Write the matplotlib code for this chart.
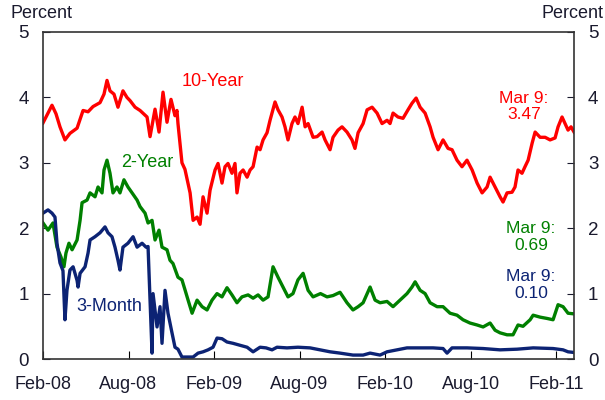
import matplotlib.pyplot as plt

# x positions: months since 1 Feb 2008
ten_x = [0, 0.21, 0.63, 0.91, 1.19, 1.54, 1.89, 2.39, 2.81, 3.16, 3.51, 4.0, 4.28, 4.49,
         4.70, 4.98, 5.26, 5.61, 5.89, 6.11, 6.46, 6.81, 7.30, 7.51, 7.86, 8.14, 8.42,
         8.70, 8.98, 9.26, 9.40, 9.47, 9.61, 9.75, 9.96, 10.32, 10.53, 10.81, 11.02,
         11.23, 11.51, 11.72, 12.07, 12.28, 12.56, 12.77, 12.98, 13.26, 13.47, 13.61,
         13.82, 14.04, 14.32, 14.53, 14.74, 15.02, 15.23, 15.44, 15.72, 15.93, 16.28,
         16.49, 16.77, 16.98, 17.19, 17.47, 17.68, 17.89, 18.18, 18.39, 18.60, 18.95,
         19.23, 19.58, 19.79, 20.14, 20.35, 20.70, 20.98, 21.33, 21.68, 21.89, 22.11,
         22.46, 22.74, 23.09, 23.44, 23.79, 24.14, 24.35, 24.56, 24.91, 25.26, 25.61,
         25.89, 26.18, 26.46, 26.81, 27.16, 27.37, 27.72, 28.07, 28.42, 28.70, 29.05,
         29.40, 29.75, 30.11, 30.46, 30.81, 31.16, 31.37, 31.72, 32.07, 32.28, 32.56,
         32.91, 33.12, 33.33, 33.61, 33.82, 34.04, 34.32, 34.53, 34.88, 35.23, 35.58,
         35.93, 36.14, 36.42, 36.63, 36.84, 37.05, 37.26]
ten_y = [3.61, 3.70, 3.88, 3.75, 3.55, 3.35, 3.45, 3.53, 3.80, 3.78, 3.86, 3.92, 4.05, 4.26,
         4.10, 4.05, 3.85, 4.10, 4.00, 3.95, 3.85, 3.80, 3.70, 3.40, 3.82, 3.47, 4.08,
         3.62, 3.97, 3.72, 3.80, 3.60, 3.30, 3.00, 2.90, 2.54, 2.12, 2.17, 2.06,
         2.48, 2.23, 2.58, 2.89, 2.99, 2.69, 2.94, 2.99, 2.84, 2.99, 2.54,
         2.84, 2.89, 2.78, 2.89, 2.94, 3.24, 3.20, 3.35, 3.46, 3.65, 3.93,
         3.81, 3.70, 3.55, 3.35, 3.60, 3.70, 3.60, 3.85, 3.55, 3.60, 3.39,
         3.40, 3.47, 3.35, 3.20, 3.39, 3.50, 3.55, 3.47, 3.35, 3.22, 3.46,
         3.60, 3.81, 3.85, 3.76, 3.60, 3.65, 3.60, 3.76, 3.70, 3.68, 3.81,
         3.91, 3.99, 3.85, 3.76, 3.55, 3.39, 3.20, 3.35, 3.22, 3.20, 3.04,
         2.94, 3.04, 2.89, 2.69, 2.54, 2.63, 2.78, 2.63, 2.48, 2.40, 2.54,
         2.55, 2.63, 2.89, 2.84, 2.94, 3.04, 3.30, 3.47, 3.39, 3.39, 3.35,
         3.38, 3.55, 3.70, 3.60, 3.50, 3.55, 3.47]

two_x = [0, 0.35, 0.70, 0.98, 1.26, 1.47, 1.61, 1.82, 2.04, 2.39, 2.60, 2.74, 3.09,
         3.30, 3.65, 3.86, 4.14, 4.28, 4.49, 4.70, 4.91, 5.19, 5.40, 5.68, 5.96, 6.25,
         6.60, 6.81, 7.16, 7.37, 7.65, 7.86, 8.14, 8.35, 8.70, 8.91, 9.12, 9.47, 9.75,
         9.96, 10.18, 10.46, 10.81, 11.16, 11.51, 11.86, 12.21, 12.56, 12.91, 13.26,
         13.61, 13.96, 14.39, 14.74, 15.09, 15.44, 15.79, 16.14, 16.49, 16.84, 17.19,
         17.54, 17.89, 18.25, 18.60, 18.95, 19.47, 19.93, 20.35, 20.84, 21.33, 21.75,
         22.11, 22.46, 22.95, 23.30, 23.65, 24.14, 24.56, 25.05, 25.54, 25.89, 26.11,
         26.46, 26.81, 27.16, 27.65, 28.07, 28.56, 29.05, 29.47, 29.96, 30.46, 30.88,
         31.37, 31.72, 32.07, 32.56, 32.98, 33.33, 33.68, 34.18, 34.39, 34.88, 35.37,
         35.79, 36.14, 36.49, 36.84, 37.26]
two_y = [2.08, 1.97, 2.08, 1.71, 1.56, 1.41, 1.62, 1.77, 1.67, 1.82, 2.12, 2.39,
         2.43, 2.54, 2.48, 2.63, 2.54, 2.89, 3.04, 2.84, 2.54, 2.63, 2.54, 2.74, 2.63,
         2.54, 2.43, 2.33, 2.23, 2.08, 2.12, 1.82, 1.97, 1.71, 1.67, 1.51, 1.46, 1.25,
         1.21, 1.06, 0.90, 0.70, 0.90, 0.80, 0.75, 0.90, 1.00, 0.95, 1.09,
         0.98, 0.86, 0.95, 0.98, 0.93, 0.98, 0.90, 0.95, 1.41, 1.25, 1.10,
         0.95, 1.00, 1.21, 1.31, 1.05, 0.95, 1.00, 0.95, 0.97, 1.02, 0.86,
         0.75, 0.80, 0.86, 1.10, 0.90, 0.86, 0.88, 0.80, 0.90, 1.00, 1.10,
         1.18, 1.05, 1.00, 0.86, 0.80, 0.80, 0.70, 0.67, 0.60, 0.55, 0.52,
         0.49, 0.55, 0.44, 0.40, 0.37, 0.37, 0.52, 0.50, 0.60, 0.67, 0.64,
         0.62, 0.60, 0.83, 0.80, 0.70, 0.69]

three_x = [0, 0.35, 0.63, 0.84, 0.98, 1.19, 1.40, 1.54, 1.68, 1.89,
           2.11, 2.39, 2.46, 2.60, 2.95, 3.16, 3.30, 3.65, 4.00, 4.35,
           4.56, 4.84, 5.05, 5.26, 5.40, 5.61, 5.96, 6.32, 6.60, 6.95,
           7.23, 7.37, 7.51, 7.65, 7.72, 8.00, 8.21, 8.35, 8.56, 8.77,
           9.05, 9.26, 9.47, 9.75, 10.11, 10.53, 10.88, 11.23, 11.58, 11.93,
           12.21, 12.56, 12.91, 13.33, 13.82, 14.32, 14.74, 15.23, 15.65, 16.07,
           16.42, 17.12, 17.89, 18.74, 19.44, 20.14, 20.84, 21.75, 22.46, 22.95,
           23.65, 24.14, 24.84, 25.54, 26.46, 27.37, 28.07, 28.35, 28.70, 29.75,
           30.88, 32.07, 33.26, 34.39, 35.79, 36.49, 36.84, 37.26]
three_y = [2.23, 2.28, 2.23, 2.17, 1.77, 1.47, 1.35, 0.60, 1.05, 1.36,
           1.41, 1.20, 1.10, 1.31, 1.41, 1.62, 1.82, 1.87, 1.93, 2.02,
           1.93, 1.87, 1.71, 1.51, 1.36, 1.71, 1.77, 1.87, 1.71, 1.77,
           1.71, 1.72, 0.90, 0.09, 1.00, 0.49, 0.80, 0.24, 1.05, 0.70,
           0.40, 0.18, 0.15, 0.03, 0.03, 0.03, 0.09, 0.11, 0.14, 0.18,
           0.32, 0.31, 0.26, 0.24, 0.21, 0.18, 0.11, 0.18, 0.17, 0.14,
           0.18, 0.17, 0.18, 0.17, 0.14, 0.11, 0.09, 0.06, 0.06, 0.09,
           0.06, 0.11, 0.14, 0.17, 0.17, 0.17, 0.16, 0.09, 0.17, 0.17,
           0.16, 0.14, 0.15, 0.17, 0.16, 0.14, 0.11, 0.10]

tick_pos = [0, 6, 12, 18, 24, 30, 36]
tick_labels = ['Feb-08', 'Aug-08', 'Feb-09', 'Aug-09', 'Feb-10', 'Aug-10', 'Feb-11']

RED = '#ff0000'
GREEN = '#008000'
NAVY = '#0c2374'
TXT = '#1a1a2e'

plt.rcParams['font.family'] = ['Liberation Sans', 'DejaVu Sans']

fig = plt.figure(figsize=(6.05, 4.0), dpi=100)
ax = fig.add_axes([0.0711, 0.1025, 0.8777, 0.8175])

ax.plot(ten_x, ten_y, color=RED, lw=2.4)
ax.plot(two_x, two_y, color=GREEN, lw=2.4)
ax.plot(three_x, three_y, color=NAVY, lw=2.4)

ax.set_xlim(0, 37.26)
ax.set_ylim(0, 5)
ax.set_xticks(tick_pos)
ax.set_xticklabels(tick_labels, fontsize=13, color=TXT)
ax.set_yticks([0, 1, 2, 3, 4, 5])
ax.tick_params(axis='y', direction='in', length=5, labelsize=13.5, colors=TXT,
               left=True, right=True, labelleft=True, labelright=True, pad=10)
ax.tick_params(axis='x', direction='in', length=6, pad=12)
for s in ax.spines.values():
    s.set_color('#333333')
    s.set_linewidth(1.2)

fig.text(0.017, 0.945, 'Percent', fontsize=13, color=TXT, ha='left', va='bottom')
fig.text(0.997, 0.945, 'Percent', fontsize=13, color=TXT, ha='right', va='bottom')

ax.text(11.9, 4.25, '10-Year', color=RED, fontsize=13, ha='center', va='center')
ax.text(7.3, 3.0, '2-Year', color=GREEN, fontsize=13, ha='center', va='center')
ax.text(4.65, 0.8, '3-Month', color=NAVY, fontsize=13, ha='center', va='center')
ax.text(33.75, 3.86, 'Mar 9:\n3.47', color=RED, fontsize=12.5, ha='center', va='center',
        linespacing=1.15)
ax.text(34.25, 1.86, 'Mar 9:\n0.69', color=GREEN, fontsize=12.5, ha='center', va='center',
        linespacing=1.15)
ax.text(34.25, 1.13, 'Mar 9:\n0.10', color=NAVY, fontsize=12.5, ha='center', va='center',
        linespacing=1.15)

fig.savefig('out.png', dpi=100)
